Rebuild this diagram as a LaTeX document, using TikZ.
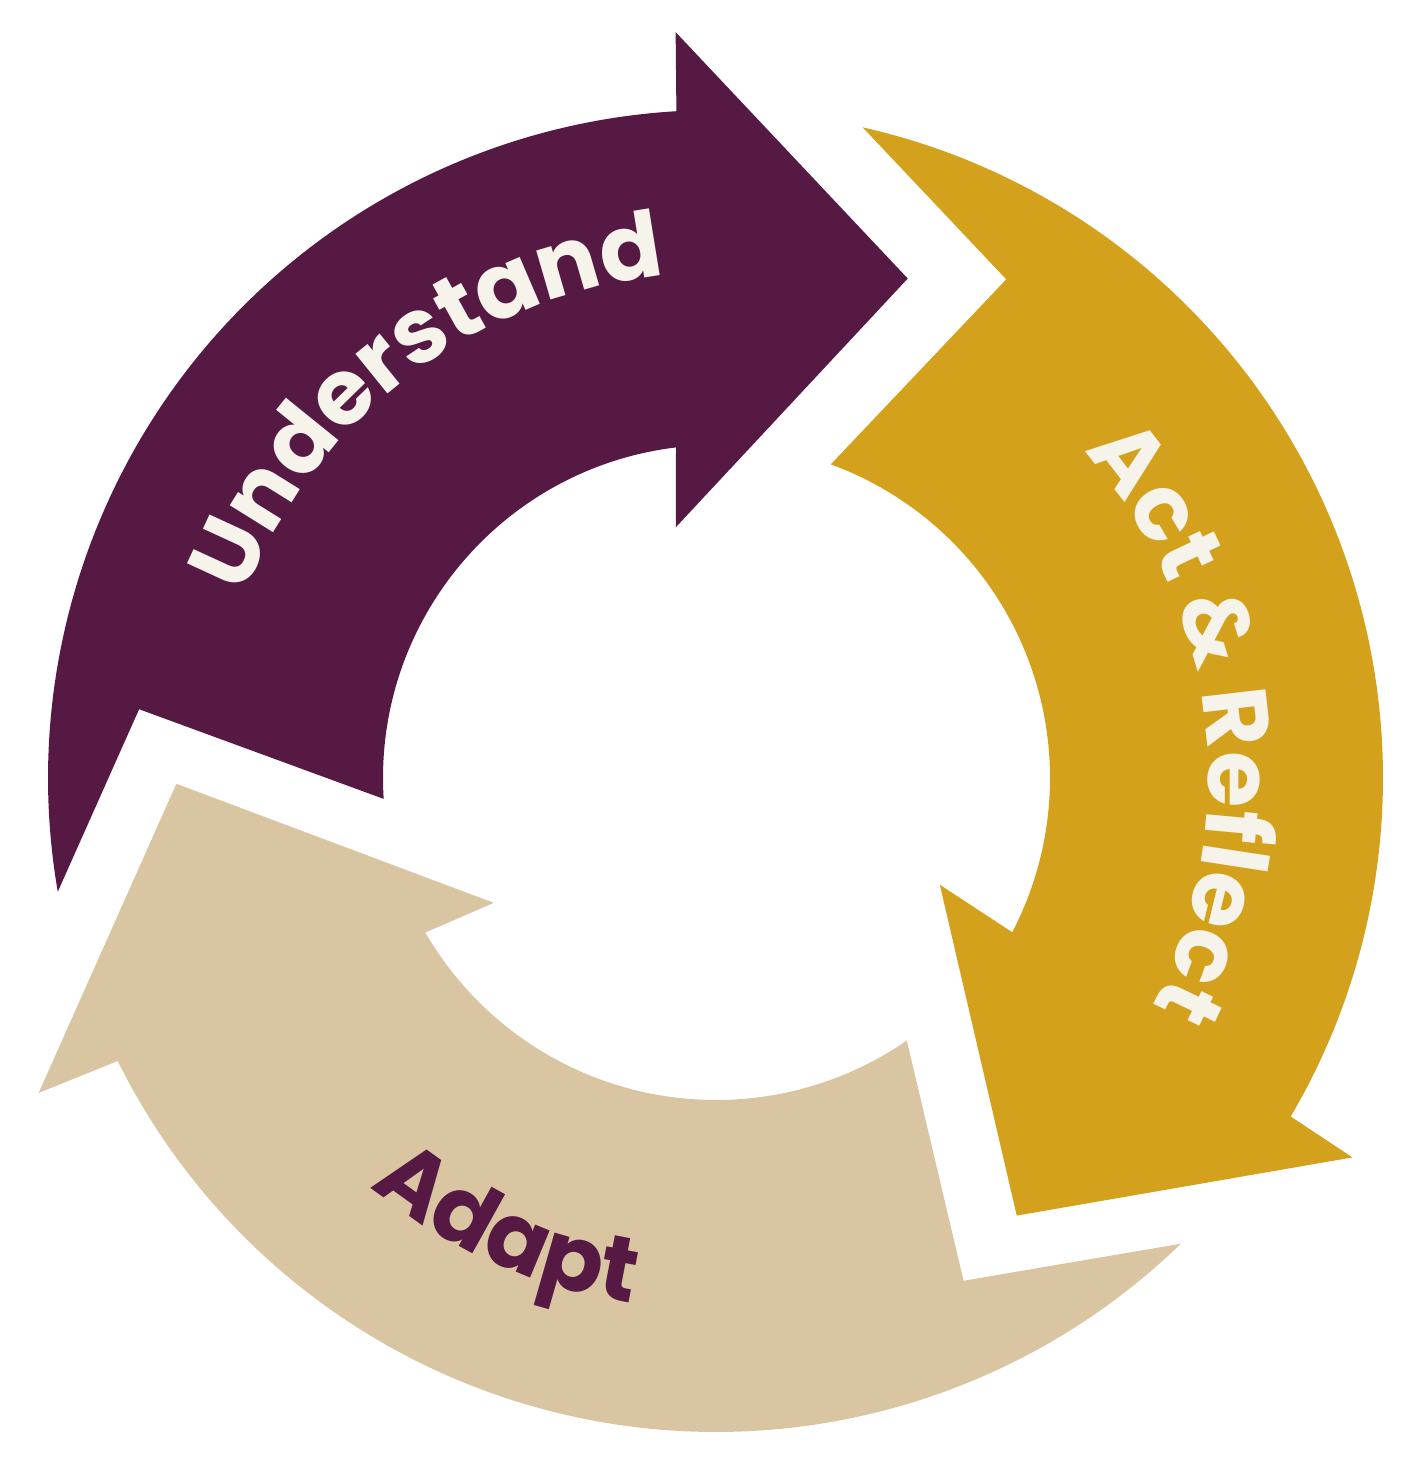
\documentclass[tikz,border=0pt]{standalone}
\usepackage{fontspec}
\setmainfont{Poppins}
\usepackage{tikz}
\usetikzlibrary{decorations.text}

\definecolor{cyclepurple}{HTML}{561944}
\definecolor{cyclegold}{HTML}{D3A11B}
\definecolor{cyclebeige}{HTML}{DAC5A3}
\definecolor{cyclecream}{HTML}{F6F3EA}
\newcommand\stagefont{\bfseries\fontsize{26pt}{26pt}\selectfont}

\begin{document}
\begin{tikzpicture}[
        curvedtext/.style={decorate, decoration={text along path, text align=center, text color=#1}}
    ]
    \useasboundingbox (0,0) rectangle (14.24,-14.79);

    % Understand and Act & Reflect
    \begin{scope}[shift={(7.16,-7.78)}]
        \fill[cyclepurple] (189.8:6.68) arc[start angle=189.8, end angle=93.4, radius=6.68]
            -- (93.1:7.47) -- (69.0:5.35) -- (99.1:2.54) -- (96.9:3.33)
            arc[start angle=96.9, end angle=183.6, radius=3.33] -- (173.2:5.81) -- cycle;
        \fill[cyclegold] (77.3:6.67) arc[start angle=77.3, end angle=-30.5, radius=6.67]
            -- (-30.8:7.41) -- (-55.5:5.31) -- (-25.5:2.48) -- (-27.5:3.34)
            arc[start angle=-27.5, end angle=69.9, radius=3.34] -- (59.8:5.77) -- cycle;

        \path[curvedtext=cyclecream, decoration={text={|\stagefont|Understand}}]
            (167.3:5.05) arc[start angle=167.3, end angle=87.3, radius=5.05];
        \path[curvedtext=cyclecream, decoration={text={|\stagefont|Act {\&} Reflect}}]
            (52:4.92) arc[start angle=52, end angle=-38, radius=4.92];
    \end{scope}

    % Adapt
    \begin{scope}[shift={(7.16,-7.64)}]
        \fill[cyclebeige] (314.1:6.68) arc[start angle=314.1, end angle=206.4, radius=6.68]
            -- (205.9:7.53) -- (182.1:5.40) -- (212.0:2.62) -- (210.1:3.36)
            arc[start angle=210.1, end angle=304.6, radius=3.36] -- (295.6:5.73) -- cycle;

        \path[curvedtext=cyclepurple, decoration={text={|\stagefont|Adapt}}]
            (225.9:5.46) arc[start angle=225.9, end angle=265.9, radius=5.46];
    \end{scope}
\end{tikzpicture}
\end{document}
